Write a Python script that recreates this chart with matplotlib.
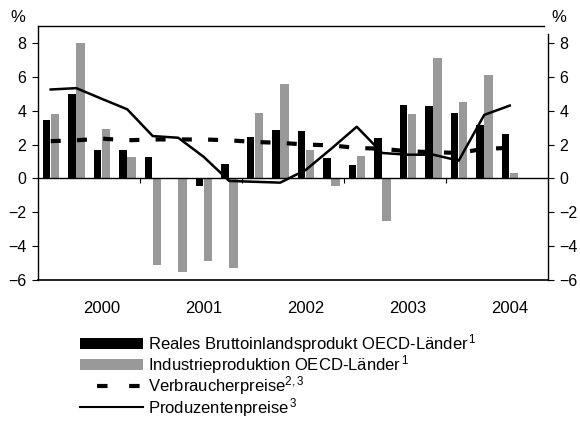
import numpy as np
import matplotlib
matplotlib.use('Agg')
import matplotlib.pyplot as plt
from matplotlib.patches import Patch
from matplotlib.lines import Line2D

plt.rcParams['font.family'] = ['Liberation Sans', 'DejaVu Sans']
plt.rcParams['mathtext.fontset'] = 'custom'
plt.rcParams['mathtext.rm'] = 'Liberation Sans'
plt.rcParams['mathtext.it'] = 'Liberation Sans'

# Quartale 2000 Q1 bis 2004 Q3
jahre = ['2000', '2001', '2002', '2003', '2004']
bip = [3.45, 5.0, 1.65, 1.65, 1.25, 0.0, -0.45, 0.85, 2.45, 2.85,
       2.8, 1.2, 0.8, 2.4, 4.35, 4.3, 3.85, 3.15, 2.65]
industrie = [3.8, 8.0, 2.9, 1.25, -5.1, -5.55, -4.85, -5.3, 3.85, 5.55,
             1.7, -0.45, 1.3, -2.5, 3.8, 7.1, 4.5, 6.1, 0.3]
verbraucher = [2.2, 2.25, 2.35, 2.25, 2.3, 2.3, 2.3, 2.25, 2.15, 2.1,
               2.0, 1.95, 1.8, 1.75, 1.6, 1.55, 1.5, 1.75, 1.8]
produzenten = [5.25, 5.33, 4.7, 4.08, 2.5, 2.4, 1.27, -0.15, -0.2, -0.25,
               0.5, 1.75, 3.05, 1.5, 1.4, 1.4, 1.05, 3.75, 4.3]

grau = '#999999'
x = np.arange(len(bip))

fig = plt.figure(figsize=(5.8, 4.24), dpi=100)
ax = fig.add_axes([0.0655, 0.3396, 0.8793, 0.5991])

ax.bar(x - 0.16, bip, width=0.3, color='black', zorder=2)
ax.bar(x + 0.165, industrie, width=0.33, color=grau, zorder=2)
ax.plot(x, verbraucher, color='black', lw=3.0, dashes=(2.4, 3.9), zorder=3)
ax.plot(x, produzenten, color='black', lw=1.8, zorder=4)

ax.set_xlim(-0.5, 19.5)
ax.set_ylim(-6, 9)
ax.set_yticks(range(-6, 9, 2))
ax.tick_params(axis='y', direction='out', length=4.3, width=0.8, pad=4.0, labelsize=11.5)

# x-Achse bei Null mit Jahresmarken
ax.spines['bottom'].set_position(('data', 0))
ax.set_xticks([3.5, 7.5, 11.5, 15.5])
ax.set_xticklabels([])
ax.tick_params(axis='x', direction='out', length=3.5, width=0.8)
ax.axhline(-6, color='black', lw=1.2, clip_on=False)
for sp in ax.spines.values():
    sp.set_linewidth(1.0)
ax.spines['right'].set_visible(False)
ax.spines['top'].set_bounds(-0.5, 19.35)

for i, j in enumerate(jahre):
    ax.text(i * 4 + 2, -7.7, j, ha='center', va='center', fontsize=12)

ax2 = ax.twinx()
ax2.set_ylim(-6, 9)
ax2.set_yticks(range(-6, 9, 2))
ax2.tick_params(axis='y', direction='out', length=4.3, width=0.8, pad=4.0, labelsize=11.5)
ax2.spines['right'].set_bounds(-6, 8.55)
ax2.spines['right'].set_linewidth(1.0)
for s in ['top', 'left', 'bottom']:
    ax2.spines[s].set_visible(False)

fig.text(18 / 580, 1 - 18 / 424, '%', ha='center', va='center', fontsize=12)
fig.text(559 / 580, 1 - 18 / 424, '%', ha='center', va='center', fontsize=12)

handles = [
    Patch(facecolor='black', edgecolor='none'),
    Patch(facecolor=grau, edgecolor='none'),
    Line2D([], [], color='black', lw=3.0, linestyle=(3.6, (2.5, 5.2))),
    Line2D([], [], color='black', lw=1.5),
]
labels = [
    'Reales Bruttoinlandsprodukt OECD-Länder$^{\\,1}$',
    'Industrieproduktion OECD-Länder$^{\\,1}$',
    'Verbraucherpreise$^{2,3}$',
    'Produzentenpreise$^{\\,3}$',
]
fig.legend(handles, labels, loc='upper left', bbox_to_anchor=(80 / 580, 1 - 332 / 424),
           frameon=False, fontsize=12, handlelength=3.75, handleheight=0.65,
           handletextpad=0.3, labelspacing=-0.1, borderpad=0, borderaxespad=0)

fig.savefig('out.png', dpi=100)
